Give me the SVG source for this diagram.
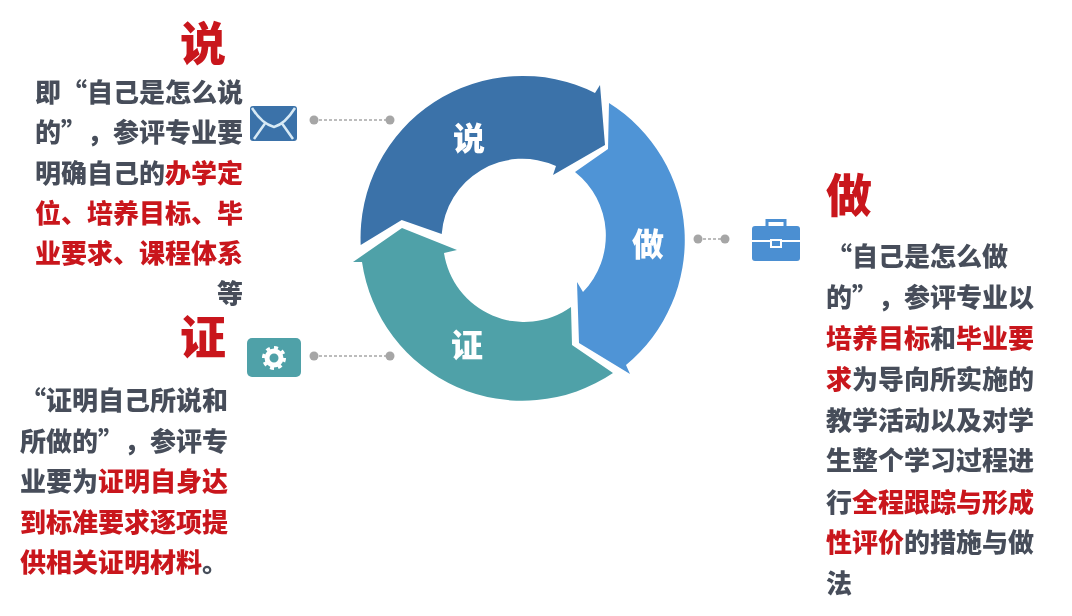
<svg xmlns="http://www.w3.org/2000/svg" width="1072" height="616" viewBox="0 0 1072 616">
<style>
text{font-family:"Noto Sans CJK SC","Noto Sans",sans-serif;font-weight:900;text-spacing-trim:space-all;font-kerning:none}
.b{font-size:26px;fill:#464e5a}
.r{fill:#c9181e}
.g{fill:#464e5a}
.h{font-size:46px;fill:#c9181e}
.w{font-size:32px;fill:#fff;text-anchor:middle}
.dot{fill:#a6a6a6}
.dash{stroke:#a6a6a6;stroke-width:1.5;stroke-dasharray:3 2;fill:none}
</style>
<defs><filter id="s" x="-5%" y="-5%" width="110%" height="110%"><feGaussianBlur stdDeviation="0.55"/></filter></defs>
<g filter="url(#s)">
<g id="ring-shuo"><path fill="#3a72a9" d="M360.700 245A162 162 0 0 1 595 93L600 85L605 145L553 175L556 166A81 81 0 0 0 441.700 234L401.700 220Z"/><text class="w" x="469" y="150">说</text></g>
<g id="ring-zuo"><path fill="#4f94d6" d="M609 103A162 162 0 0 1 626 365L630 374L579 343L577 282L583 292A81 81 0 0 0 575 172L608 149Z"/><text class="w" x="648" y="256">做</text></g>
<g id="ring-zheng"><path fill="#4fa1a8" d="M613 373A162 162 0 0 1 362 262L353 262L402 228L457 250L444 253A81 81 0 0 0 571 307L572 345Z"/><text class="w" x="467" y="357">证</text></g>
<g id="connectors">
<circle class="dot" cx="314" cy="120" r="4.500"/><circle class="dot" cx="390" cy="120" r="4.500"/><path class="dash" d="M314 120H390"/>
<circle class="dot" cx="314" cy="356" r="4.500"/><circle class="dot" cx="390" cy="356" r="4.500"/><path class="dash" d="M314 356H390"/>
<circle class="dot" cx="698" cy="239" r="4.500"/><circle class="dot" cx="725" cy="239" r="4.500"/><path class="dash" d="M698 239H725"/>
</g>
<g id="icon-mail"><rect x="250" y="106" width="47" height="35" rx="3" fill="#3a72a9"/><path d="M252 108Q262 124 274 127Q285 124 295 108M254 139L266 122M293 139L281 122" fill="none" stroke="#d8eaf5" stroke-width="2.500"/></g>
<g id="icon-gear"><rect x="247" y="338" width="54" height="39" rx="5" fill="#4fa1a8"/><circle cx="274" cy="358" r="7" fill="none" stroke="#fff" stroke-width="5"/><circle cx="274" cy="358" r="10.500" fill="none" stroke="#fff" stroke-width="3" stroke-dasharray="4 4.200"/></g>
<g id="icon-case"><rect x="752" y="226" width="48" height="35" rx="3" fill="#4b8fd2"/><path d="M767 226V220.500H785V226" fill="none" stroke="#4b8fd2" stroke-width="3"/><path d="M752 241H800" stroke="#fff" stroke-width="2"/><rect x="771" y="240" width="10" height="7" fill="#4b8fd2" stroke="#fff" stroke-width="2"/></g>
<g id="text-shuo"><text class="h" x="180" y="60">说</text>
<text class="b" x="35" y="102">即“自己是怎么说</text>
<text class="b" x="35" y="142">的”，参评专业要</text>
<text class="b" x="35" y="183">明确自己的<tspan class="r">办学定</tspan></text>
<text class="b r" x="35" y="223">位、培养目标、毕</text>
<text class="b r" x="35" y="263">业要求、课程体系</text>
<text class="b" x="217" y="303">等</text></g>
<g id="text-zheng"><text class="h" x="180" y="354">证</text>
<text class="b" x="20" y="410">“证明自己所说和</text>
<text class="b" x="20" y="451">所做的”，参评专</text>
<text class="b" x="20" y="491">业要为<tspan class="r">证明自身达</tspan></text>
<text class="b r" x="20" y="532">到标准要求逐项提</text>
<text class="b r" x="20" y="572">供相关证明材料<tspan class="g">。</tspan></text></g>
<g id="text-zuo"><text class="h" x="826" y="212">做</text>
<text class="b" x="826" y="266">“自己是怎么做</text>
<text class="b" x="826" y="307">的”，参评专业以</text>
<text class="b r" x="826" y="348">培养目标<tspan class="g">和</tspan>毕业要</text>
<text class="b" x="826" y="389"><tspan class="r">求</tspan>为导向所实施的</text>
<text class="b" x="826" y="430">教学活动以及对学</text>
<text class="b" x="826" y="470">生整个学习过程进</text>
<text class="b" x="826" y="512">行<tspan class="r">全程跟踪与形成</tspan></text>
<text class="b" x="826" y="552"><tspan class="r">性评价</tspan>的措施与做</text>
<text class="b" x="826" y="593">法</text></g>
</g>
</svg>
